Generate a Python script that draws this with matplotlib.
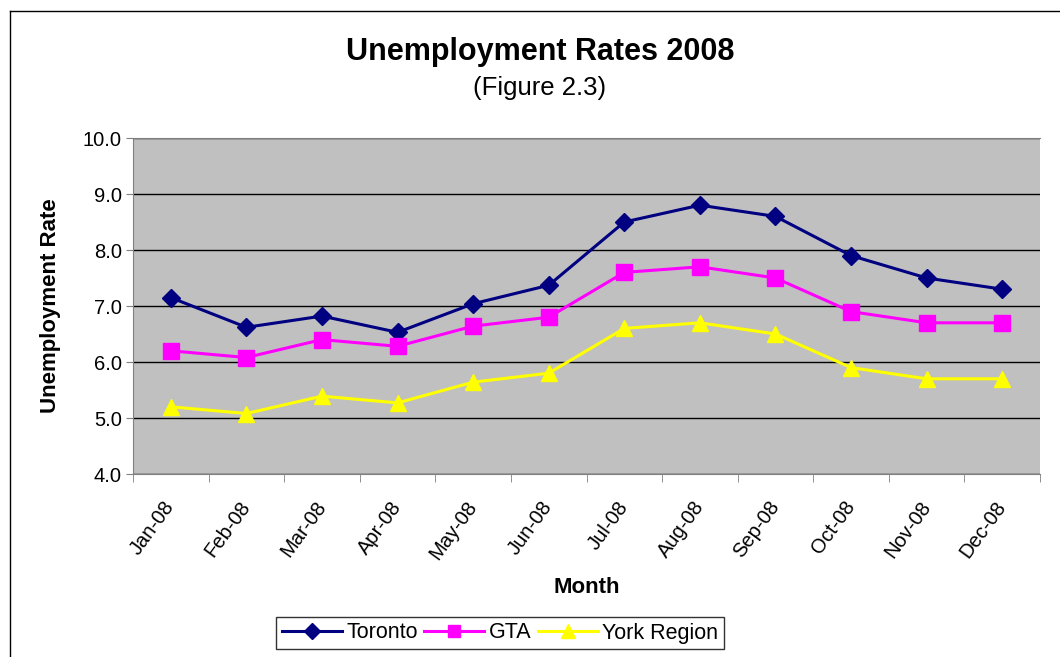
import matplotlib
matplotlib.use("Agg")
import matplotlib.pyplot as plt
from matplotlib.lines import Line2D

plt.rcParams['font.family'] = ['Liberation Sans', 'DejaVu Sans']

months = ["Jan-08", "Feb-08", "Mar-08", "Apr-08", "May-08", "Jun-08",
          "Jul-08", "Aug-08", "Sep-08", "Oct-08", "Nov-08", "Dec-08"]
toronto = [7.15, 6.62, 6.82, 6.53, 7.04, 7.37, 8.5, 8.8, 8.6, 7.9, 7.5, 7.3]
gta = [6.2, 6.08, 6.4, 6.28, 6.64, 6.8, 7.6, 7.7, 7.5, 6.9, 6.7, 6.7]
york = [5.2, 5.08, 5.39, 5.27, 5.64, 5.8, 6.6, 6.7, 6.5, 5.9, 5.7, 5.7]
yticks = [4.0, 5.0, 6.0, 7.0, 8.0, 9.0, 10.0]

W, H = 1060, 657
fig = plt.figure(figsize=(W / 100, H / 100), dpi=100)
ax = fig.add_axes([133 / W, 1 - 474 / H, (1040 - 133) / W, (474 - 138) / H])
ax.set_facecolor('#C0C0C0')

x = list(range(len(months)))
ax.plot(x, toronto, color='#000080', lw=2.2, marker='D', ms=9, label='Toronto', zorder=3)
ax.plot(x, gta, color='#FF00FF', lw=2.2, marker='s', ms=11, label='GTA', zorder=3)
ax.plot(x, york, color='#FFFF00', lw=2.2, marker='^', ms=12, label='York Region', zorder=3)

ax.set_xlim(-0.5, len(months) - 0.5)
ax.set_ylim(4.0, 10.0)
ax.set_yticks(yticks)
ax.set_yticklabels([f"{v:.1f}" for v in yticks], fontsize=14.5)
ax.yaxis.grid(True, color='black', lw=1.0)
ax.set_axisbelow(True)

ax.set_xticks(x)
ax.set_xticklabels(months, rotation=54, ha='right', va='center',
                   rotation_mode='anchor', fontsize=14.5)
ax.tick_params(axis='x', length=0, pad=21)
ax.set_xticks([i + 0.5 for i in range(-1, len(months))], minor=True)
ax.tick_params(axis='x', which='minor', length=6, direction='out', color='#808080')
ax.tick_params(axis='y', length=5, direction='out', color='#808080', pad=3)

ax.spines['right'].set_visible(False)
ax.spines['top'].set_color('#808080')
ax.spines['left'].set_color('#808080')
ax.spines['bottom'].set_color('#808080')

ax.set_xlabel('Month', fontsize=16, fontweight='bold', labelpad=10)
ax.set_ylabel('Unemployment Rate', fontsize=16, fontweight='bold', labelpad=16)

fig.text(540 / W, 1 - 52 / H, 'Unemployment Rates 2008', ha='center', va='center',
         fontsize=22, fontweight='bold')
fig.text(540 / W, 1 - 88 / H, '(Figure 2.3)', ha='center', va='center', fontsize=18.5)

leg = fig.legend(loc='center', bbox_to_anchor=(500 / W, 1 - 633 / H), ncol=3,
                 fontsize=15.5, frameon=True, fancybox=False, edgecolor='black',
                 handlelength=2.8, columnspacing=0.3, handletextpad=0.2,
                 borderpad=0.25, markerscale=0.85)
leg.get_frame().set_linewidth(1.0)

fig.add_artist(Line2D([10 / W, 1.0], [1 - 11 / H, 1 - 11 / H], color='black', lw=1.0))
fig.add_artist(Line2D([10 / W, 10 / W], [1 - 11 / H, 0.0], color='black', lw=1.0))

fig.savefig('out.png', dpi=100)
